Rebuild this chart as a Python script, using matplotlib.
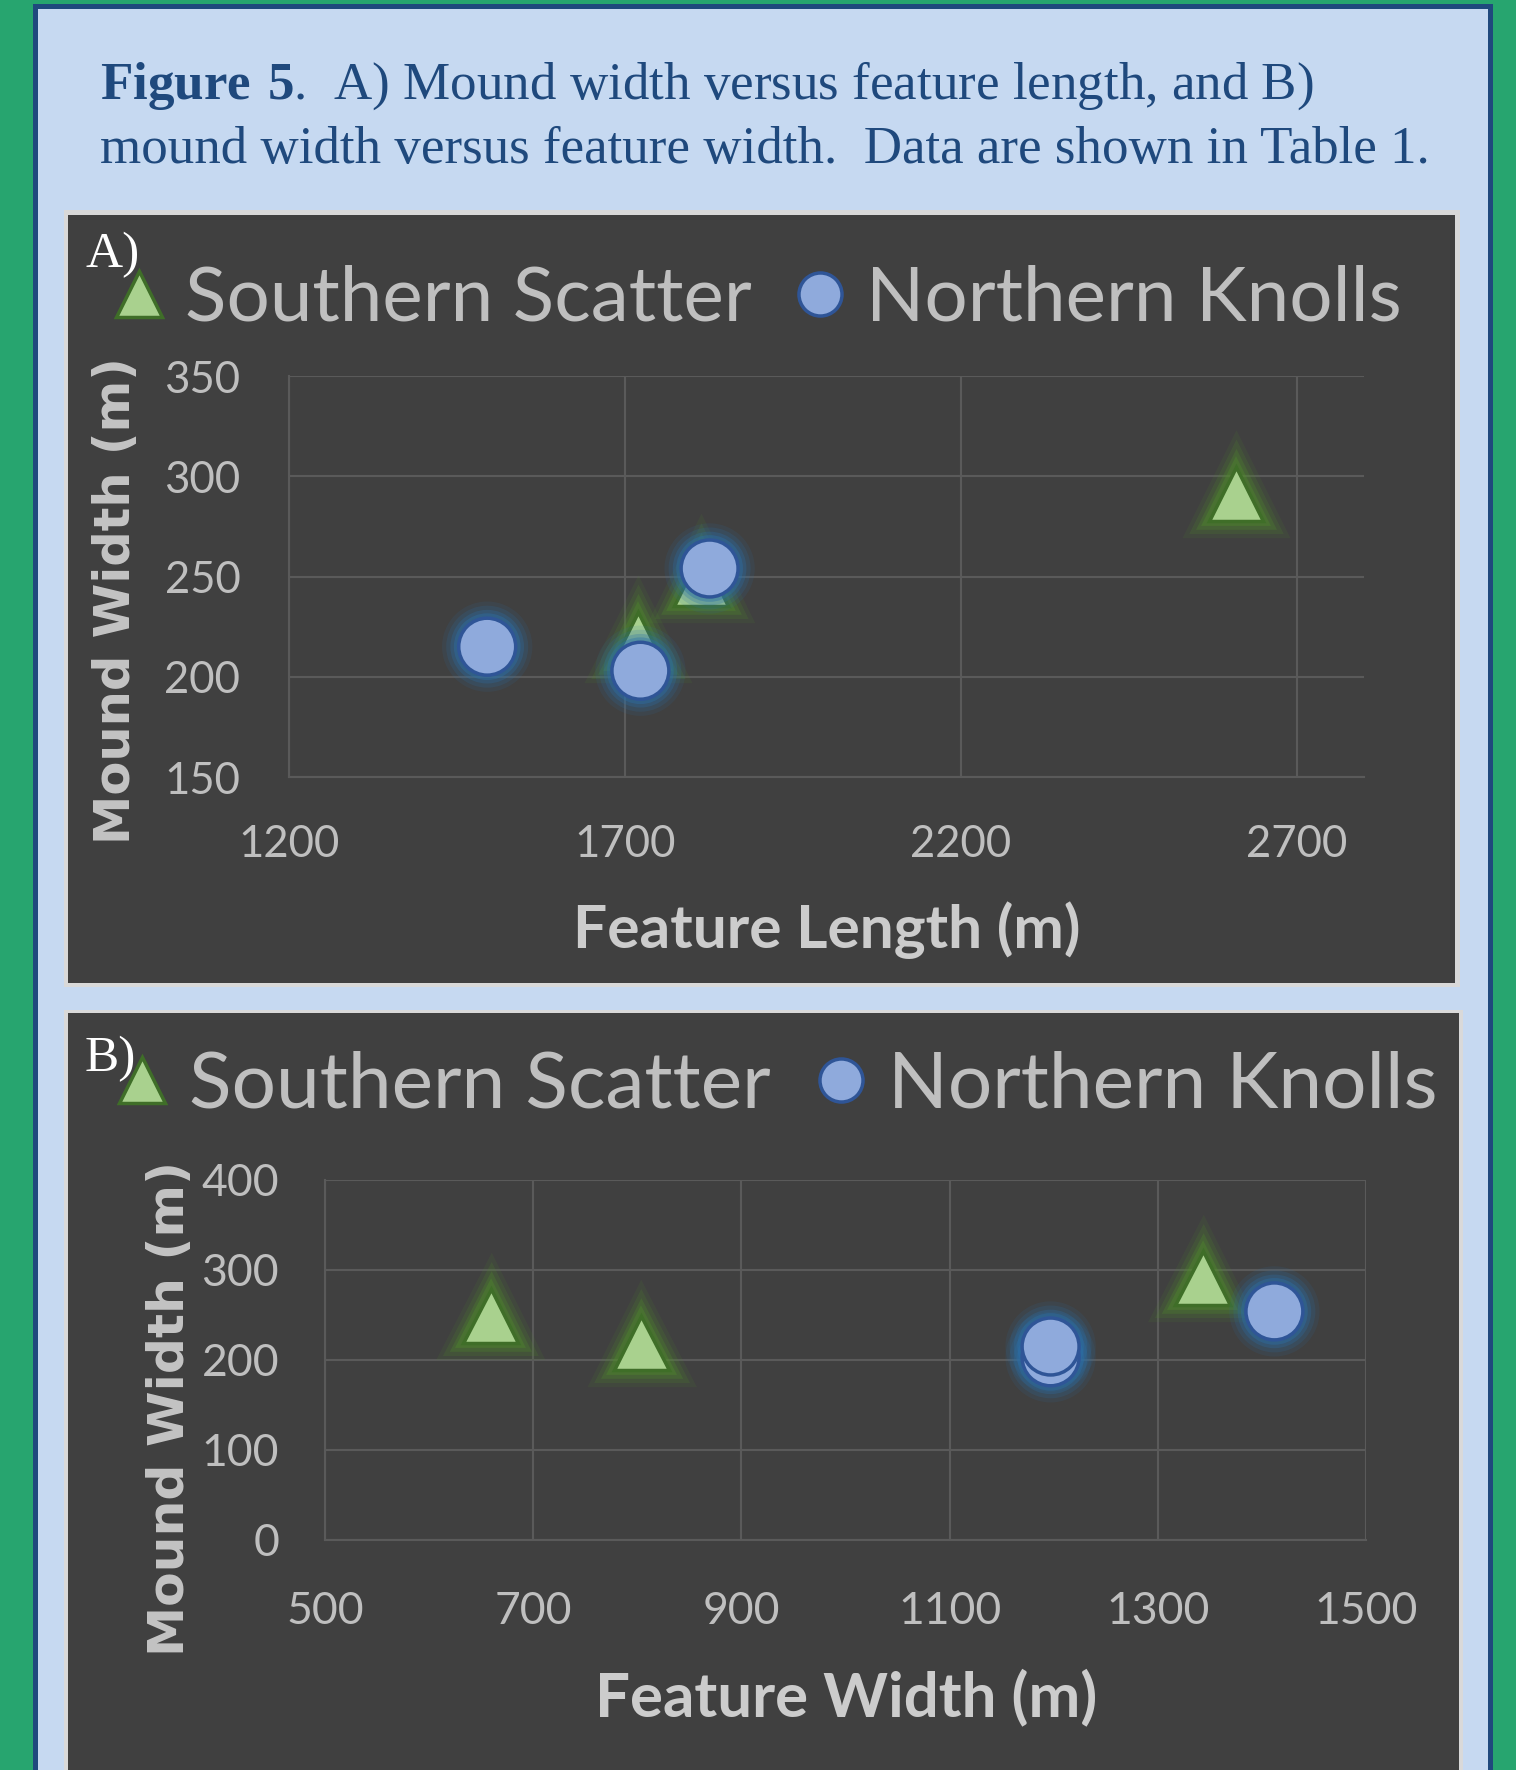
import matplotlib.pyplot as plt
import matplotlib.patheffects as pe
from matplotlib.patches import Rectangle
from matplotlib.lines import Line2D

# values
series = ['Southern Scatter', 'Northern Knolls']
south_length = [1719, 1813, 2610]
south_fwidth = [804, 659, 1343]
south_mound = [219, 249, 291]
north_length = [1723, 1495, 1826]
north_fwidth = [1197, 1197, 1412]
north_mound = [203, 215, 254]

len_ticks = [1200, 1700, 2200, 2700]
fw_ticks = [500, 700, 900, 1100, 1300, 1500]
mw_ticks_a = [150, 200, 250, 300, 350]
mw_ticks_b = [0, 100, 200, 300, 400]

plt.rcParams['font.family'] = ['Lato', 'DejaVu Sans']
plt.rcParams['mathtext.fontset'] = 'custom'
plt.rcParams['mathtext.rm'] = 'Liberation Serif'
plt.rcParams['mathtext.bf'] = 'Liberation Serif:bold'

W, H = 1516, 1770
fig = plt.figure(figsize=(W / 100, H / 100), dpi=100, facecolor='#27a56f')

# background boxes in pixel coords
bg = fig.add_axes([0, 0, 1, 1])
bg.set_xlim(0, W)
bg.set_ylim(H, 0)
bg.axis('off')
bg.add_patch(Rectangle((34.5, 5.5), 1455, 1850, facecolor='#c6d9f1', edgecolor='#1f497d', lw=3.6))
bg.add_patch(Rectangle((64, 210), 1396, 777, facecolor='#d9d9d9', lw=0))
bg.add_patch(Rectangle((68, 215), 1387, 768, facecolor='#404040', lw=0))
bg.add_patch(Rectangle((64, 1010), 1399, 800, facecolor='#d9d9d9', lw=0))
bg.add_patch(Rectangle((68, 1013), 1391, 800, facecolor='#404040', lw=0))

navy = '#1f497d'
fig.text(100 / W, 1 - 99 / H, r'$\mathbf{Figure\ 5}$.  A) Mound width versus feature length, and B)',
         family='Liberation Serif', fontsize=38.2, color=navy, va='baseline')
fig.text(100 / W, 1 - 163 / H, 'mound width versus feature width.  Data are shown in Table 1.',
         family='Liberation Serif', fontsize=38.2, color=navy, va='baseline')
fig.text(85 / W, 1 - 267 / H, 'A)', family='Liberation Serif', fontsize=37, color='white', va='baseline')
fig.text(85 / W, 1 - 1071 / H, 'B)', family='Liberation Serif', fontsize=37, color='white', va='baseline')

tri_fill, tri_edge, tri_glow = '#a9d18e', '#3f6e28', '#4f8a2c'
cir_fill, cir_edge, cir_glow = '#8faadc', '#2f5597', '#2b6fa8'


def glow(c):
    return [pe.Stroke(linewidth=24, foreground=c, alpha=0.12),
            pe.Stroke(linewidth=18, foreground=c, alpha=0.18),
            pe.Stroke(linewidth=12, foreground=c, alpha=0.28),
            pe.Stroke(linewidth=7, foreground=c, alpha=0.4),
            pe.Normal()]


def px_axes(x0, y0, x1, y1):
    return fig.add_axes([x0 / W, 1 - y1 / H, (x1 - x0) / W, (y1 - y0) / H])


def style(ax, xt, yt, xlim, ylim, fs, xpad, ypad):
    ax.set_facecolor('none')
    ax.set_xlim(xlim)
    ax.set_ylim(ylim)
    ax.set_xticks(xt)
    ax.set_yticks(yt)
    ax.grid(True, color='#5a5a5a', lw=1.5)
    ax.set_axisbelow(True)
    for s in ['top', 'right']:
        ax.spines[s].set_visible(False)
    for s in ['left', 'bottom']:
        ax.spines[s].set_color('#5a5a5a')
        ax.spines[s].set_linewidth(1.5)
    ax.tick_params(axis='x', length=0, labelsize=fs, labelcolor='#bfbfbf', pad=xpad)
    ax.tick_params(axis='y', length=0, labelsize=fs, labelcolor='#bfbfbf', pad=ypad)


def scatter_pair(ax, sx, sy, nx, ny):
    ax.plot(sx, sy, ls='none', marker='^', ms=39, mfc=tri_fill, mec=tri_edge, mew=2.5,
            path_effects=glow(tri_glow), clip_on=False)
    ax.plot(nx, ny, ls='none', marker='o', ms=41, mfc=cir_fill, mec=cir_edge, mew=2.5,
            path_effects=glow(cir_glow), clip_on=False)


def add_legend(ax, x, y, fs):
    h = [Line2D([], [], ls='none', marker='^', ms=33, mfc=tri_fill, mec=tri_edge, mew=2.5),
         Line2D([], [], ls='none', marker='o', ms=31, mfc=cir_fill, mec=cir_edge, mew=2.5)]
    ax.legend(h, series, loc='center left', bbox_to_anchor=(x / W, 1 - y / H),
              bbox_transform=fig.transFigure, ncol=2, frameon=False, fontsize=fs,
              labelcolor='#bfbfbf', handlelength=0.6, handletextpad=0.3,
              columnspacing=0.6, borderpad=0, borderaxespad=0)


# panel A
ax1 = px_axes(289, 376, 1364, 777)
style(ax1, len_ticks, mw_ticks_a, (1200, 2800), (150, 350), 31.5, 34, 35)
scatter_pair(ax1, south_length, south_mound, north_length, north_mound)
add_legend(ax1, 116, 299, 55)
fig.text(827 / W, 1 - 930 / H, 'Feature Length (m)', ha='center', va='center',
         fontsize=43.5, fontweight='bold', color='#cccccc')
fig.text(116 / W, 1 - 601 / H, 'Mound Width (m)', ha='center', va='center', rotation=90,
         family='DejaVu Sans', fontsize=35.7, fontweight='bold', color='#c4c4c4')

# panel B
ax2 = px_axes(325, 1180, 1366, 1540)
style(ax2, fw_ticks, mw_ticks_b, (500, 1500), (0, 400), 32, 37, 33)
scatter_pair(ax2, south_fwidth, south_mound, north_fwidth, north_mound)
add_legend(ax2, 118, 1086, 56.5)
fig.text(846 / W, 1 - 1697 / H, 'Feature Width (m)', ha='center', va='center',
         fontsize=44.5, fontweight='bold', color='#cccccc')
fig.text(170 / W, 1 - 1408 / H, 'Mound Width (m)', ha='center', va='center', rotation=90,
         family='DejaVu Sans', fontsize=36.3, fontweight='bold', color='#c4c4c4')

fig.savefig('out.png', dpi=100, facecolor=fig.get_facecolor())
